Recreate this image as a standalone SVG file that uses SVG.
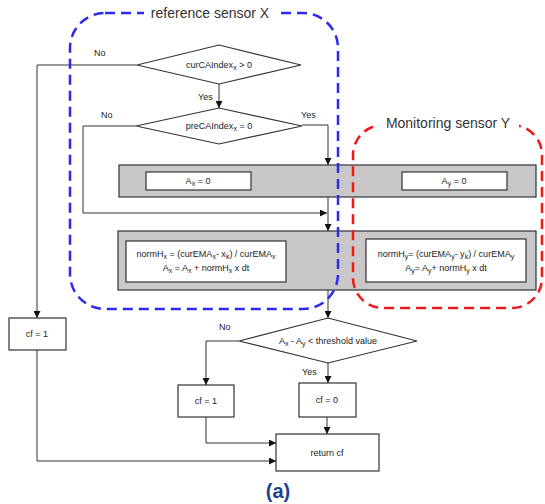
<svg xmlns="http://www.w3.org/2000/svg" width="545" height="504" viewBox="0 0 545 504">
<style>
text{font-family:"Liberation Sans",Arial,sans-serif;font-size:9px;fill:#222}
.t{text-anchor:middle}
.s{font-size:7px}
.box{fill:#fff;stroke:#333;stroke-width:1.2}
.gray{fill:#c8c8c8;stroke:#333;stroke-width:1.2}
.ln{fill:none;stroke:#333;stroke-width:1}
.title{font-size:14px;fill:#333}
</style>
<defs>
<marker id="ah" viewBox="0 0 10 10" refX="10" refY="5" markerWidth="7" markerHeight="7" orient="auto" markerUnits="userSpaceOnUse">
<path d="M0,0 L10,5 L0,10 Z" fill="#111"/>
</marker>
</defs>
<rect width="545" height="504" fill="#fff"/>

<g id="step1">
<rect class="gray" x="119" y="165" width="417" height="32"/>
</g>
<g id="ax0"><rect class="box" x="146" y="172" width="105" height="18"/>
<text class="t" x="198" y="184">A<tspan class="s" baseline-shift="-2">x</tspan> = 0</text></g>
<g id="ay0"><rect class="box" x="402" y="172" width="105" height="18"/>
<text class="t" x="454" y="184">A<tspan class="s" baseline-shift="-2">y</tspan> = 0</text></g>

<g id="step2">
<rect class="gray" x="118" y="231" width="418" height="59"/>
</g>
<g id="normx"><rect class="box" x="126" y="241" width="160" height="41"/>
<text class="t" x="206" y="257">normH<tspan class="s" baseline-shift="-2">x</tspan> = (curEMA<tspan class="s" baseline-shift="-2">x</tspan>- x<tspan class="s" baseline-shift="-2">k</tspan>) / curEMA<tspan class="s" baseline-shift="-2">x</tspan></text>
<text class="t" x="206" y="271">A<tspan class="s" baseline-shift="-2">x</tspan> = A<tspan class="s" baseline-shift="-2">x</tspan> + normH<tspan class="s" baseline-shift="-2">x</tspan> x dt</text></g>
<g id="normy"><rect class="box" x="366" y="239" width="160" height="43"/>
<text class="t" x="446" y="257">normH<tspan class="s" baseline-shift="-2">y</tspan>= (curEMA<tspan class="s" baseline-shift="-2">y</tspan>- y<tspan class="s" baseline-shift="-2">k</tspan>) / curEMA<tspan class="s" baseline-shift="-2">y</tspan></text>
<text class="t" x="446" y="271">A<tspan class="s" baseline-shift="-2">y</tspan>= A<tspan class="s" baseline-shift="-2">y</tspan>+ normH<tspan class="s" baseline-shift="-2">y</tspan> x dt</text></g>

<g id="dec1"><polygon class="box" points="137,65 219,45 301,65 219,84"/>
<text class="t" x="219" y="68">curCAIndex<tspan class="s" baseline-shift="-2">x</tspan> &gt; 0</text></g>
<g id="dec2"><polygon class="box" points="136,126 219,108 302,126 219,144"/>
<text class="t" x="219" y="129">preCAIndex<tspan class="s" baseline-shift="-2">x</tspan> = 0</text></g>
<g id="dec3"><polygon class="box" points="239,341 328,318 417,341 328,363"/>
<text class="t" x="328" y="344">A<tspan class="s" baseline-shift="-2">x</tspan> - A<tspan class="s" baseline-shift="-2">y</tspan> &lt; threshold value</text></g>

<g id="cf1left"><rect class="box" x="9" y="318" width="57" height="32"/><text class="t" x="37" y="337">cf = 1</text></g>
<g id="cf1mid"><rect class="box" x="178" y="385" width="56" height="32"/><text class="t" x="206" y="404">cf = 1</text></g>
<g id="cf0"><rect class="box" x="299" y="383" width="57" height="34"/><text class="t" x="327" y="403">cf = 0</text></g>
<g id="ret"><rect class="box" x="276" y="434" width="103" height="37"/><text class="t" x="327" y="456">return cf</text></g>

<g id="connectors">
<path class="ln" d="M219,84 V108" marker-end="url(#ah)"/>
<path class="ln" d="M137,65 H37 V318" marker-end="url(#ah)"/>
<path class="ln" d="M302,125 H328 V165" marker-end="url(#ah)"/>
<path class="ln" d="M136,126 H83 V213 H327" marker-end="url(#ah)"/>
<path class="ln" d="M328,197 V231" marker-end="url(#ah)"/>
<path class="ln" d="M328,290 V318" marker-end="url(#ah)"/>
<path class="ln" d="M239,341 H206 V385" marker-end="url(#ah)"/>
<path class="ln" d="M328,363 V383" marker-end="url(#ah)"/>
<path class="ln" d="M327,417 V434" marker-end="url(#ah)"/>
<path class="ln" d="M206,417 V443 H276" marker-end="url(#ah)"/>
<path class="ln" d="M37,350 V461 H276" marker-end="url(#ah)"/>
<text x="94" y="56">No</text>
<text x="198" y="100">Yes</text>
<text x="101" y="118">No</text>
<text x="301" y="118">Yes</text>
<text x="219" y="330">No</text>
<text x="302" y="375">Yes</text>
</g>

<g id="regionX">
<rect x="70" y="13" width="268" height="296" rx="35" fill="none" stroke="#2a2af0" stroke-width="2.5" stroke-dasharray="10,6"/>
<rect x="144" y="4" width="132" height="18" fill="#fff"/>
<text class="title t" x="210" y="18">reference sensor X</text>
</g>
<g id="regionY">
<rect x="353" y="125" width="189" height="183" rx="30" fill="none" stroke="#f01818" stroke-width="2.5" stroke-dasharray="10,6"/>
<rect x="378" y="114" width="141" height="18" fill="#fff"/>
<text class="title t" x="448" y="128">Monitoring sensor Y</text>
</g>

<text class="t" x="278" y="498" style="font-size:20px;font-weight:bold;fill:#1f3f8f">(a)</text>
</svg>
